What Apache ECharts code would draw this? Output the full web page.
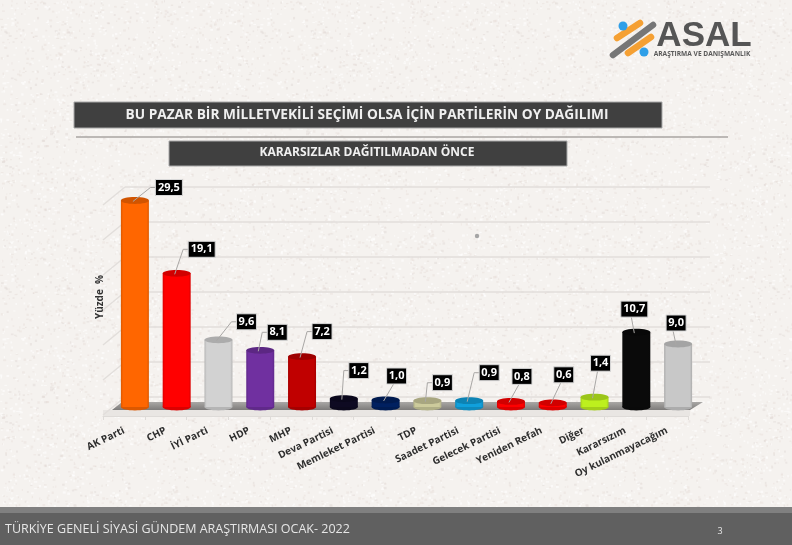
<!DOCTYPE html>
<html lang="tr">
<head>
<meta charset="utf-8">
<title>Parti oy dağılımı</title>
<style>html,body{margin:0;padding:0;background:#f4f1ee}#main{width:792px;height:545px}</style>
<script src="https://cdn.jsdelivr.net/npm/echarts@6/dist/echarts.min.js"></script>
</head>
<body>
<div id="main"></div>
<script>
const categories = ['AK Parti','CHP','İYİ Parti','HDP','MHP','Deva Partisi','Memleket Partisi','TDP','Saadet Partisi','Gelecek Partisi','Yeniden Refah','Diğer','Kararsızım','Oy kulanmayacağım'];
const values = [29.5,19.1,9.6,8.1,7.2,1.2,1.0,0.9,0.9,0.8,0.6,1.4,10.7,9.0];
const barColors = ['#ff6600','#ff0000','#d2d2d2','#7030a0','#c00000','#0e0a22','#002060','#cdcb9c','#10a0dc','#ff0000','#ff0000','#bdf01e','#0a0a0a','#c8c8c8'];
// Callout box centre relative to the top of its cylinder
const calloutDx = [34,25,28,17,20,15,11,15,20,11,11,6,-2,-2];
const calloutDy = [-13,-24,-18,-18,-25,-28,-24,-18,-28,-25,-28,-34,-23,-21];
const chartTitle = 'BU PAZAR BİR MİLLETVEKİLİ SEÇİMİ OLSA İÇİN PARTİLERİN OY DAĞILIMI';
const chartSubtitle = 'KARARSIZLAR DAĞITILMADAN ÖNCE';
const footerText = 'TÜRKİYE GENELİ SİYASİ GÜNDEM ARAŞTIRMASI OCAK- 2022';
const pageNumber = '3';
const axisName = 'Yüzde  %';

const FONT = '"Open Sans", "Noto Sans", sans-serif';

// Speckled paper tile for the slide background
function paperTile() {
  const c = document.createElement('canvas');
  c.width = c.height = 256;
  const g = c.getContext('2d');
  g.fillStyle = '#f5f2ef';
  g.fillRect(0, 0, 256, 256);
  let s = 12345;
  const next = () => (s = (s * 1103515245 + 12345) & 0x7fffffff) / 0x7fffffff;
  for (let i = 0; i < 2600; i++) {
    const x = next() * 256, y = next() * 256, r = next();
    g.fillStyle = r < 0.5 ? 'rgba(255,255,255,0.55)' : (r < 0.85 ? 'rgba(230,220,216,0.4)' : 'rgba(212,202,199,0.3)');
    g.fillRect(x, y, 1 + next() * 2, 1 + next() * 1.5);
  }
  return c;
}

const chart = echarts.init(document.getElementById('main'), null, {renderer: 'canvas'});

// Floor plane and left wall of the pseudo-3D plot
const backL = 125, backR = 710, backBottom = 397, backTop = 187, step = 35;
const frontL = 103, frontR = 688, frontBottom = 416;
const wallLines = [];
for (let i = 0; i <= 6; i++) {
  const yb = backBottom - i * step;
  wallLines.push({type: 'line', z: 1, shape: {x1: frontL, y1: yb + 18, x2: backL, y2: yb},
    style: {stroke: '#e2dedb', lineWidth: 1.5}});
}

const graphics = [
  // Logo mark
  {type: 'line', z: 3, shape: {x1: 617, y1: 38, x2: 640, y2: 23}, style: {stroke: '#f5a033', lineWidth: 6.5, lineCap: 'round'}},
  {type: 'line', z: 3, shape: {x1: 613, y1: 55, x2: 653, y2: 25}, style: {stroke: '#767676', lineWidth: 6.5, lineCap: 'round'}},
  {type: 'line', z: 3, shape: {x1: 628, y1: 53, x2: 651, y2: 37}, style: {stroke: '#f5a033', lineWidth: 6.5, lineCap: 'round'}},
  {type: 'circle', z: 3, shape: {cx: 623, cy: 26, r: 4.5}, style: {fill: '#2f9fe8'}},
  {type: 'circle', z: 3, shape: {cx: 644, cy: 52, r: 4.5}, style: {fill: '#2f9fe8'}},
  {type: 'text', z: 3, x: 704, y: 36, style: {text: 'ASAL', fill: '#555555', font: 'bold 35px "Liberation Sans", sans-serif', align: 'center', verticalAlign: 'middle'}},
  {type: 'text', z: 3, x: 702, y: 54, style: {text: 'ARAŞTIRMA VE DANIŞMANLIK', fill: '#5a5a5a', font: 'bold 6.6px "Open Sans", sans-serif', align: 'center', verticalAlign: 'middle'}},
  // Heading bars
  {type: 'rect', z: 3, shape: {x: 74, y: 102, width: 588, height: 26}, style: {fill: '#404040', stroke: '#a8a8a8', lineWidth: 1}},
  {type: 'text', z: 4, x: 367, y: 115, style: {text: chartTitle, fill: '#f0f0f0', font: 'bold 13.7px ' + FONT, align: 'center', verticalAlign: 'middle'}},
  {type: 'line', z: 3, shape: {x1: 76, y1: 137, x2: 728, y2: 137}, style: {stroke: '#a8a5a2', lineWidth: 1.5}},
  {type: 'rect', z: 3, shape: {x: 169, y: 141, width: 398, height: 25}, style: {fill: '#404040', stroke: '#a8a8a8', lineWidth: 1}},
  {type: 'text', z: 4, x: 367, y: 153, style: {text: chartSubtitle, fill: '#f0f0f0', font: 'bold 12px ' + FONT, align: 'center', verticalAlign: 'middle'}},
  // Stray dot on the slide
  {type: 'circle', z: 3, shape: {cx: 477, cy: 236, r: 2.2}, style: {fill: '#a5a5a5'}},
  // Floor
  {type: 'polygon', z: 1, shape: {points: [[frontL, 410], [frontR + 2, 410], [frontR + 2, frontBottom], [frontL, frontBottom]]}, style: {fill: '#e9e6e3'}},
  {type: 'polygon', z: 1, shape: {points: [[112, 410], [690, 410], [703, 402], [122, 402]]},
    style: {fill: new echarts.graphic.LinearGradient(0, 0, 0, 1, [{offset: 0, color: '#a9a7a5'}, {offset: 1, color: '#7d7b7a'}])}},
  ...wallLines,
  // Footer
  {type: 'rect', z: 3, shape: {x: 0, y: 507, width: 792, height: 6}, style: {fill: '#808080'}},
  {type: 'rect', z: 3, shape: {x: 0, y: 513, width: 792, height: 32}, style: {fill: '#606060'}},
  {type: 'text', z: 4, x: 5, y: 529, style: {text: footerText, fill: '#e6e6e6', font: '12.5px ' + FONT, align: 'left', verticalAlign: 'middle'}},
  {type: 'text', z: 4, x: 720, y: 531, style: {text: pageNumber, fill: '#e6e6e6', font: '9px ' + FONT, align: 'center', verticalAlign: 'middle'}}
];

// Mix a colour towards black
const shade = (col, amount) => echarts.color.lerp(amount, [col, '#000000']);

// One cylinder with its leader line and value callout
function renderCylinder(params, api) {
  const i = api.value(0), v = api.value(1);
  const top = api.coord([i, v]);
  const base = api.coord([i, 0]);
  const hw = api.size([1, 0])[0] * 0.335;
  const ry = 3.4;
  const col = barColors[i];
  const edge = shade(col, 0.14);
  const body = new echarts.graphic.LinearGradient(0, 0, 1, 0, [
    {offset: 0, color: edge}, {offset: 0.08, color: col}, {offset: 0.92, color: col}, {offset: 1, color: edge}]);
  const label = v.toFixed(1).replace('.', ',');
  const bw = label.length > 3 ? 27 : 20, bh = 16;
  const bx = top[0] + calloutDx[i], by = top[1] + calloutDy[i];
  const sx = top[0] - 2, sy = top[1] + 1;
  const pts = calloutDx[i] > bw / 2 + 2
    ? [[sx, sy], [bx - bw / 2 - 5, by], [bx - bw / 2, by]]
    : [[sx, sy], [bx - 3, by + bh / 2]];
  return {
    type: 'group',
    children: [
      {type: 'ellipse', shape: {cx: base[0], cy: base[1], rx: hw, ry: ry}, style: {fill: edge}},
      {type: 'rect', shape: {x: base[0] - hw, y: top[1], width: hw * 2, height: base[1] - top[1]}, style: {fill: body}},
      {type: 'ellipse', shape: {cx: top[0], cy: top[1], rx: hw, ry: ry}, style: {fill: shade(col, 0.18)}},
      {type: 'polyline', shape: {points: pts}, style: {stroke: '#a9a7a5', lineWidth: 1, fill: 'none'}},
      {type: 'rect', shape: {x: bx - bw / 2, y: by - bh / 2, width: bw, height: bh}, style: {fill: '#000000', stroke: '#d8d8d8', lineWidth: 1}},
      {type: 'text', x: bx, y: by, style: {text: label, fill: '#ffffff', font: 'bold 11px ' + FONT, align: 'center', verticalAlign: 'middle'}}
    ]
  };
}

chart.setOption({
  animation: false,
  backgroundColor: {image: paperTile(), repeat: 'repeat'},
  graphic: {elements: graphics},
  grid: [
    {left: backL, top: backTop, width: backR - backL, height: backBottom - backTop},
    {left: 114, top: 197, width: 585, height: 210},
    {left: frontL, top: frontBottom - 210, width: frontR - frontL, height: 210}
  ],
  xAxis: [
    {gridIndex: 0, type: 'category', data: categories, show: false},
    {gridIndex: 1, type: 'category', data: categories, show: false},
    {gridIndex: 2, type: 'category', data: categories,
      axisLine: {show: true, lineStyle: {color: '#dedbd8', width: 1}},
      axisTick: {show: true, length: 4, lineStyle: {color: '#dedbd8'}},
      axisLabel: {interval: 0, rotate: 26, margin: 14, color: '#2e2e2e', fontFamily: FONT, fontWeight: 'bold', fontSize: 10}}
  ],
  yAxis: [
    {gridIndex: 0, type: 'value', min: 0, max: 30, interval: 5, name: axisName, nameLocation: 'middle', nameGap: 20, nameRotate: 90,
      nameTextStyle: {color: '#333333', fontFamily: FONT, fontWeight: 'bold', fontSize: 10, padding: [0, 10, 0, 0]},
      axisLine: {show: false}, axisTick: {show: false}, axisLabel: {show: false},
      splitLine: {show: true, lineStyle: {color: '#e2dedb', width: 1.5}}},
    {gridIndex: 1, type: 'value', min: 0, max: 30, interval: 5, show: false, splitLine: {show: false}},
    {gridIndex: 2, type: 'value', min: 0, max: 30, interval: 5, show: false, splitLine: {show: false}}
  ],
  series: [{
    type: 'custom',
    xAxisIndex: 1,
    yAxisIndex: 1,
    z: 5,
    clip: false,
    renderItem: renderCylinder,
    data: values.map((v, i) => [i, v])
  }]
});
</script>
</body>
</html>
